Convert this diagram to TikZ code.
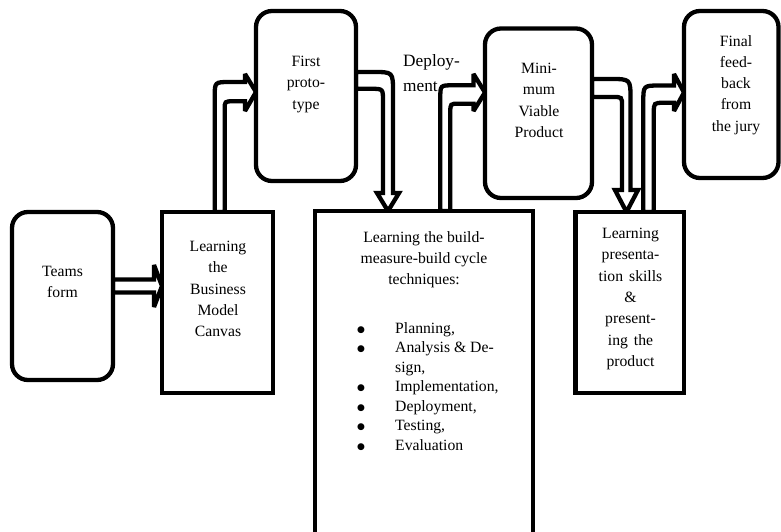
\documentclass[tikz,border=0pt]{standalone}
\usepackage{fontspec}
\setmainfont{Liberation Serif}
\newfontfamily\symfont{DejaVu Sans}
% list bullet: a solid round dot
\newcommand{\listdot}{\makebox[38pt][l]{\raisebox{1pt}{\symfont\fontsize{9}{9}\selectfont ●}}}
\begin{document}
\begin{tikzpicture}[x=1pt,y=-1pt,
  box/.style={draw, fill=white, line width=4.3pt, inner sep=0pt, outer sep=0pt},
  rbox/.style={box, rounded corners=16pt},
  barrow/.style={draw, fill=white, line width=4.3pt, line join=miter, miter limit=3},
  place/.style={inner sep=0pt, outer sep=0pt},
  txt/.style={font=\fontsize{15.7}{21.3}\selectfont, align=center, inner sep=0pt, anchor=north},
  listtxt/.style={font=\fontsize{15.7}{19.5}\selectfont, align=left, inner sep=0pt, anchor=north west},
  deptxt/.style={font=\fontsize{17.3}{25}\selectfont, align=left, inner sep=0pt, anchor=north west}]
\useasboundingbox (0,0) rectangle (781,532);
\clip (0,0) rectangle (781,532);

% box frames as named nodes (drawn later, on top of the arrows)
\path (62.5,296)     node[place, minimum width=101pt, minimum height=168pt] (teams) {};
\path (217.5,302.5)  node[place, minimum width=111pt, minimum height=181pt] (bmc) {};
\path (306,96)       node[place, minimum width=100pt, minimum height=170pt] (first) {};
\path (538.5,113.25) node[place, minimum width=107pt, minimum height=169.5pt] (mvp) {};
\path (731.25,94.5)  node[place, minimum width=94.5pt, minimum height=167pt] (final) {};
\path (424,385.5)    node[place, minimum width=218pt, minimum height=349pt] (bmb) {};
\path (629.75,302.5) node[place, minimum width=108.5pt, minimum height=181pt] (pres) {};

% hollow block arrows
\path[barrow] (teams.east |- 0,279.5) -- (154,279.5) -- (154,265) -- (bmc.west |- 0,286)
  -- (154,307) -- (154,292.5) -- (teams.east |- 0,292.5) -- cycle;

\path[barrow] (214.7,0 |- bmc.north) -- (214.7,97) .. controls (214.7,82) .. (230,82) -- (245,82)
  -- (245,74) -- (first.west |- 0,92) -- (245,111) -- (245,101.3) -- (233,101.3)
  .. controls (224.7,101.3) .. (224.7,109.6) -- (224.7,0 |- bmc.north) -- cycle;

\path[barrow] (first.east |- 0,72) -- (373,72) .. controls (393,72) .. (393,92) -- (393,193)
  -- (399,193) -- (388,0 |- bmb.north) -- (377,193) -- (383,193) -- (383,101)
  .. controls (383,88.8) .. (371,88.8) -- (first.east |- 0,88.8) -- cycle;

\path[barrow] (440.3,0 |- bmb.north) -- (440.3,98) .. controls (440.3,85.3) .. (453,85.3) -- (473.5,85.3)
  -- (473.5,74) -- (mvp.west |- 0,92.5) -- (473.5,111) -- (473.5,103.7) -- (459,103.7)
  .. controls (450.3,103.7) .. (450.3,112.4) -- (450.3,0 |- bmb.north) -- cycle;

\path[barrow] (mvp.east |- 0,79) -- (610,79) .. controls (630.5,79) .. (630.5,99) -- (630.5,190)
  -- (638,190) -- (626.5,0 |- pres.north) -- (615,190) -- (622,190) -- (622,106)
  .. controls (622,97) .. (613,97) -- (mvp.east |- 0,97) -- cycle;

\path[barrow] (643.3,0 |- pres.north) -- (643.3,102) .. controls (643.3,85.5) .. (660,85.5) -- (674,85.5)
  -- (674,74) -- (final.west |- 0,92.5) -- (674,111) -- (674,102.8) -- (664,102.8)
  .. controls (653.8,102.8) .. (653.8,113) -- (653.8,0 |- pres.north) -- cycle;

% box frames
\draw[rbox] (teams.north west) rectangle (teams.south east);
\draw[box]  (bmc.north west) rectangle (bmc.south east);
\draw[rbox] (first.north west) rectangle (first.south east);
\draw[rbox] (mvp.north west) rectangle (mvp.south east);
\draw[rbox] (final.north west) rectangle (final.south east);
\draw[box]  (bmb.north west) rectangle (bmb.south east);
\draw[box]  (pres.north west) rectangle (pres.south east);

% texts
\node[txt] (teamsT) at (62.5,266) {Teams\\form};
\node[txt] (bmcT) at (218,241) {Learning\\the\\Business\\Model\\Canvas};
\node[txt] (firstT) at (306,56) {First\\proto-\\type};
\node[deptxt] (deployT) at (403,54) {Deploy-\\ment};
\node[txt] (mvpT) at (539,63) {Mini-\\mum\\Viable\\Product};
\node[txt] (finalT) at (736,35) {Final\\feed-\\back\\from\\the jury};
\node[txt] (bmbT) at (424,231) {Learning the build-\\measure-build cycle\\techniques:};
\node[listtxt] (listT) at (357,322) {%
  \listdot Planning,\\
  \listdot Analysis \& De-\\
  \hspace*{38pt}sign,\\
  \listdot Implementation,\\
  \listdot Deployment,\\
  \listdot Testing,\\
  \listdot Evaluation};
\node[txt] (presT) at (630.5,228) {Learning\\presenta-\\tion\hspace{6pt}skills\\\&\\present-\\ing\hspace{6pt}the\\product};
\end{tikzpicture}
\end{document}
